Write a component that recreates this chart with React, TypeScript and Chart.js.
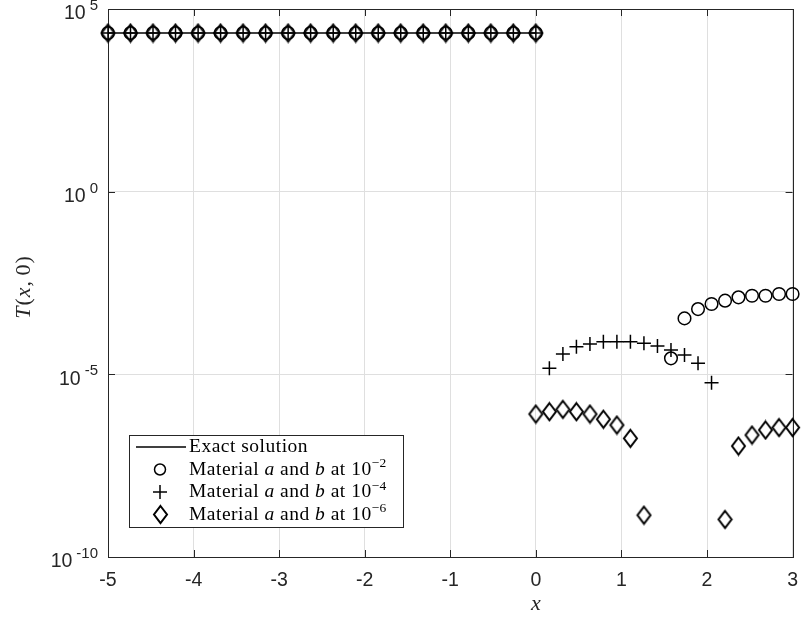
import React, { useEffect, useRef } from 'react';
import { Chart, registerables } from 'chart.js';

Chart.register(...registerables);

// ---- data ----
const xLeft = [-5, -4.737, -4.474, -4.211, -3.947, -3.684, -3.421, -3.158, -2.895, -2.632,
  -2.368, -2.105, -1.842, -1.579, -1.316, -1.053, -0.789, -0.526, -0.263, 0];
const exactLeft = [2.2e4, 2.2e4, 2.2e4, 2.2e4, 2.2e4, 2.2e4, 2.2e4, 2.2e4, 2.2e4, 2.2e4,
  2.2e4, 2.2e4, 2.2e4, 2.2e4, 2.2e4, 2.2e4, 2.2e4, 2.2e4, 2.2e4, 2.2e4];
const circleLeft = [2.2e4, 2.2e4, 2.2e4, 2.2e4, 2.2e4, 2.2e4, 2.2e4, 2.2e4, 2.2e4, 2.2e4,
  2.2e4, 2.2e4, 2.2e4, 2.2e4, 2.2e4, 2.2e4, 2.2e4, 2.2e4, 2.2e4, 2.2e4];
const plusLeft = [2.2e4, 2.2e4, 2.2e4, 2.2e4, 2.2e4, 2.2e4, 2.2e4, 2.2e4, 2.2e4, 2.2e4,
  2.2e4, 2.2e4, 2.2e4, 2.2e4, 2.2e4, 2.2e4, 2.2e4, 2.2e4, 2.2e4, 2.2e4];
const diamondLeft = [2.2e4, 2.2e4, 2.2e4, 2.2e4, 2.2e4, 2.2e4, 2.2e4, 2.2e4, 2.2e4, 2.2e4,
  2.2e4, 2.2e4, 2.2e4, 2.2e4, 2.2e4, 2.2e4, 2.2e4, 2.2e4, 2.2e4, 2.2e4];

const xRight = [0, 0.158, 0.316, 0.474, 0.632, 0.789, 0.947, 1.105, 1.263, 1.421,
  1.579, 1.737, 1.895, 2.053, 2.211, 2.368, 2.526, 2.684, 2.842, 3.0];
const circleRight = [null, null, null, null, null, null, null, null, null, null,
  2.74e-5, 3.4e-4, 6.1e-4, 8.4e-4, 1.04e-3, 1.28e-3, 1.42e-3, 1.42e-3, 1.58e-3, 1.58e-3];
const plusRight = [null, 1.46e-5, 3.6e-5, 5.7e-5, 6.8e-5, 7.8e-5, 7.8e-5, 7.8e-5, 7.1e-5, 5.96e-5,
  4.6e-5, 3.4e-5, 2.0e-5, 5.9e-6, null, null, null, null, null, null];
const diamondRight = [8.2e-7, 9.5e-7, 1.1e-6, 9.5e-7, 8.2e-7, 5.9e-7, 4.1e-7, 1.77e-7, 1.4e-9, null,
  null, null, null, null, 1.07e-9, 1.09e-7, 2.18e-7, 3.0e-7, 3.5e-7, 3.5e-7];

const xTickValues = [-5, -4, -3, -2, -1, 0, 1, 2, 3];
const yTickValues = [1e-10, 1e-5, 1e0, 1e5];
const yTickExponents = ['-10', '-5', '0', '5'];

const legendFirst = 'Exact solution';
const legendExponents = ['\u22122', '\u22124', '\u22126'];

const AXIS = '#262626';
const GRID = '#dfdfdf';

function pts(xs: number[], ys: (number | null)[]) {
  const out: { x: number; y: number }[] = [];
  xs.forEach((x, i) => {
    const y = ys[i];
    if (y !== null && y !== undefined) out.push({ x, y });
  });
  return out;
}

function makeDiamond(w: number, h: number, lw: number) {
  const c = document.createElement('canvas');
  c.width = w + 4;
  c.height = h + 4;
  const g = c.getContext('2d')!;
  g.strokeStyle = '#000';
  g.lineWidth = lw;
  g.lineJoin = 'miter';
  g.beginPath();
  g.moveTo(c.width / 2, 2);
  g.lineTo(c.width - 2, c.height / 2);
  g.lineTo(c.width / 2, c.height - 2);
  g.lineTo(2, c.height / 2);
  g.closePath();
  g.stroke();
  return c;
}

export default function App() {
  const ref = useRef<HTMLCanvasElement | null>(null);

  useEffect(() => {
    const canvas = ref.current;
    if (!canvas) return;
    const diamond = makeDiamond(13, 17, 2.0);

    const decor = {
      id: 'decor',
      beforeDatasetsDraw(chart: any) {
        const { ctx, chartArea: a, scales } = chart;
        const xs = scales.x;
        const ys = scales.y;
        ctx.save();
        ctx.strokeStyle = AXIS;
        ctx.lineWidth = 1;
        ctx.beginPath();
        xTickValues.forEach((v) => {
          const px = Math.round(xs.getPixelForValue(v)) + 0.5;
          ctx.moveTo(px, a.bottom);
          ctx.lineTo(px, a.bottom - 7);
          ctx.moveTo(px, a.top);
          ctx.lineTo(px, a.top + 7);
        });
        yTickValues.forEach((v) => {
          const py = Math.round(ys.getPixelForValue(v)) + 0.5;
          ctx.moveTo(a.left, py);
          ctx.lineTo(a.left + 7, py);
          ctx.moveTo(a.right, py);
          ctx.lineTo(a.right - 7, py);
        });
        ctx.stroke();
        ctx.strokeRect(Math.round(a.left) + 0.5, Math.round(a.top) + 0.5,
          Math.round(a.right - a.left), Math.round(a.bottom - a.top));
        ctx.restore();
      },
      afterDraw(chart: any) {
        const { ctx, chartArea: a, scales } = chart;
        const ys = scales.y;
        const xs = scales.x;
        ctx.save();
        ctx.fillStyle = AXIS;
        // y tick labels 10^n
        yTickValues.forEach((v, i) => {
          const py = ys.getPixelForValue(v);
          const exp = yTickExponents[i];
          ctx.textBaseline = 'middle';
          ctx.textAlign = 'right';
          ctx.font = '15px "Liberation Sans", Arial, sans-serif';
          const ew = ctx.measureText(exp).width;
          const right = a.left - 10;
          ctx.fillText(exp, right, py - 3);
          ctx.font = '19.5px "Liberation Sans", Arial, sans-serif';
          ctx.fillText('10', right - ew - 4, py + 5);
        });

        // x title
        ctx.textAlign = 'center';
        ctx.textBaseline = 'middle';
        ctx.font = 'italic 22px "Liberation Serif", serif';
        ctx.fillText('x', xs.getPixelForValue(0), 604);

        // y title T(x, 0)
        ctx.save();
        ctx.translate(24, (a.top + a.bottom) / 2 + 4);
        ctx.rotate(-Math.PI / 2);
        const segs = [
          { t: 'T', it: true },
          { t: '(', it: false },
          { t: 'x', it: true },
          { t: ',\u2009', it: false },
          { t: '0', it: false },
          { t: ')', it: false },
        ];
        let tw = 0;
        segs.forEach((s) => {
          ctx.font = (s.it ? 'italic ' : '') + '22px "Liberation Serif", serif';
          tw += ctx.measureText(s.t).width + 1;
        });
        let cx = -tw / 2;
        ctx.textAlign = 'left';
        segs.forEach((s) => {
          ctx.font = (s.it ? 'italic ' : '') + '22px "Liberation Serif", serif';
          ctx.fillText(s.t, cx, 0);
          cx += ctx.measureText(s.t).width + 1;
        });
        ctx.restore();

        // legend
        const bx = 129, by = 435, bw = 274, bh = 92;
        ctx.fillStyle = '#ffffff';
        ctx.fillRect(bx, by, bw, bh);
        ctx.strokeStyle = AXIS;
        ctx.lineWidth = 1;
        ctx.strokeRect(bx + 0.5, by + 0.5, bw, bh);
        const rowY = (i: number) => by + 12 + i * 22.5;
        const mx = 160;
        const tx = 189;
        // row 0: line
        ctx.strokeStyle = '#000';
        ctx.lineWidth = 1.3;
        ctx.beginPath();
        ctx.moveTo(136, rowY(0));
        ctx.lineTo(186, rowY(0));
        ctx.stroke();
        // row 1: circle
        ctx.lineWidth = 1.5;
        ctx.beginPath();
        ctx.arc(mx, rowY(1), 5.5, 0, Math.PI * 2);
        ctx.stroke();
        // row 2: plus
        ctx.beginPath();
        ctx.moveTo(mx - 7, rowY(2));
        ctx.lineTo(mx + 7, rowY(2));
        ctx.moveTo(mx, rowY(2) - 7);
        ctx.lineTo(mx, rowY(2) + 7);
        ctx.stroke();
        // row 3: diamond
        ctx.drawImage(diamond, Math.round(mx - diamond.width / 2), Math.round(rowY(3) - diamond.height / 2));

        ctx.fillStyle = '#000';
        ctx.textAlign = 'left';
        ctx.textBaseline = 'middle';
        const normal = '19.5px "Liberation Serif", serif';
        const italic = 'italic 19.5px "Liberation Serif", serif';
        const sup = '13.5px "Liberation Serif", serif';
        ctx.font = normal;
        let x0 = tx;
        for (const ch of legendFirst) {
          ctx.fillText(ch, x0, rowY(0));
          x0 += ctx.measureText(ch).width + 0.5;
        }
        legendExponents.forEach((e, i) => {
          const y = rowY(i + 1);
          const parts = [
            { t: 'Material ', f: normal, dy: 0 },
            { t: 'a', f: italic, dy: 0 },
            { t: ' and ', f: normal, dy: 0 },
            { t: 'b', f: italic, dy: 0 },
            { t: ' at 10', f: normal, dy: 0 },
            { t: e, f: sup, dy: -6 },
          ];
          let x = tx;
          parts.forEach((p) => {
            ctx.font = p.f;
            for (const ch of p.t) {
              ctx.fillText(ch, x, y + p.dy);
              x += ctx.measureText(ch).width + (p.f === sup ? 0.2 : 0.5);
            }
          });
        });
        ctx.restore();
      },
    };

    const chart = new Chart(canvas, {
      type: 'scatter',
      data: {
        datasets: [
          {
            label: 'Exact solution',
            data: pts(xLeft, exactLeft),
            showLine: true,
            borderColor: '#000',
            borderWidth: 1.6,
            pointRadius: 0,
            tension: 0,
            clip: false,
          },
          {
            label: 'Material a and b at 10^-2',
            data: [...pts(xLeft, circleLeft), ...pts(xRight, circleRight)],
            showLine: false,
            pointStyle: 'circle',
            pointRadius: 6.3,
            borderColor: '#000',
            backgroundColor: 'rgba(0,0,0,0)',
            borderWidth: 1.5,
            clip: false,
          },
          {
            label: 'Material a and b at 10^-4',
            data: [...pts(xLeft, plusLeft), ...pts(xRight, plusRight)],
            showLine: false,
            pointStyle: 'cross',
            pointRadius: 7,
            borderColor: '#000',
            backgroundColor: 'rgba(0,0,0,0)',
            borderWidth: 1.5,
            clip: false,
          },
          {
            label: 'Material a and b at 10^-6',
            data: [...pts(xLeft, diamondLeft), ...pts(xRight, diamondRight)],
            showLine: false,
            pointStyle: diamond as any,
            pointRadius: 8,
            borderColor: '#000',
            backgroundColor: 'rgba(0,0,0,0)',
            clip: false,
          },
        ],
      },
      options: {
        animation: false,
        responsive: false,
        maintainAspectRatio: false,
        layout: { padding: { top: 9, right: 7, left: 0, bottom: 0 } },
        plugins: {
          legend: { display: false },
          tooltip: { enabled: false },
          title: { display: false },
        },
        scales: {
          x: {
            type: 'linear',
            min: -5,
            max: 3,
            afterBuildTicks: (s: any) => {
              s.ticks = xTickValues.map((v) => ({ value: v }));
            },
            ticks: {
              color: AXIS,
              font: { family: '"Liberation Sans", Arial, sans-serif', size: 19.5 },
              padding: 12,
              maxRotation: 0,
              autoSkip: false,
              callback: (v: any) => String(v),
            },
            grid: { color: GRID, lineWidth: 1, drawTicks: false },
            border: { display: false },
            afterFit: (s: any) => {
              s.height = 68;
            },
          },
          y: {
            type: 'logarithmic',
            min: 1e-10,
            max: 1e5,
            afterBuildTicks: (s: any) => {
              s.ticks = yTickValues.map((v) => ({ value: v }));
            },
            ticks: { display: false },
            grid: { color: GRID, lineWidth: 1, drawTicks: false },
            border: { display: false },
            afterFit: (s: any) => {
              s.width = 108;
            },
          },
        },
      },
      plugins: [decor],
    } as any);

    return () => chart.destroy();
  }, []);

  return (
    <div style={{ position: 'absolute', left: 0, top: 0, width: 810, height: 625, background: '#fff' }}>
      <canvas ref={ref} width={810} height={625} style={{ width: 810, height: 625, display: 'block' }} />
    </div>
  );
}
